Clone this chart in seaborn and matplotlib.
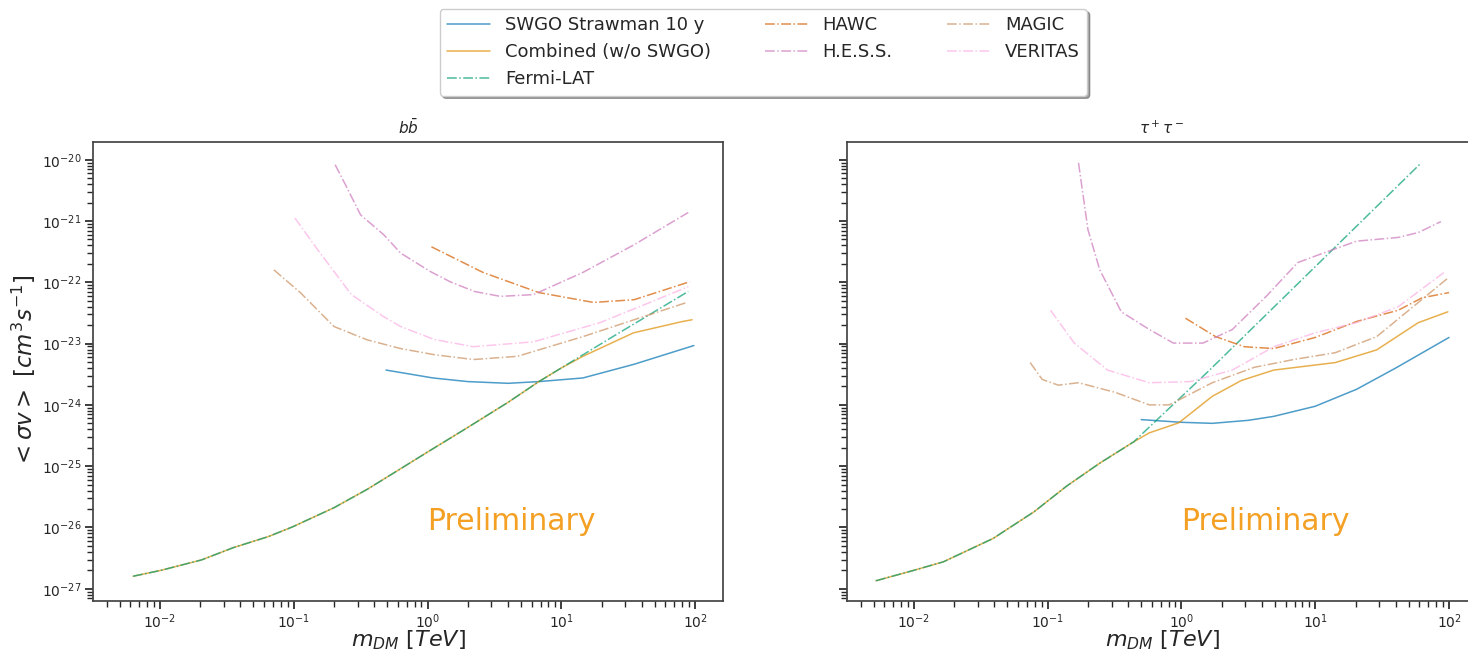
import matplotlib
matplotlib.use("Agg")
import matplotlib.pyplot as plt
from matplotlib.ticker import NullFormatter
import seaborn as sns

# ---------------- data (mass in TeV, <sigma v> in cm^3/s) ----------------
# b b-bar channel
bb_low_m = [0.0063, 0.0102, 0.0204, 0.0355, 0.0646, 0.0977, 0.2, 0.355, 0.63, 1.0, 1.9, 4.0, 6.8]
bb_low_sv = [1.6e-27, 2.0e-27, 2.95e-27, 4.7e-27, 7.1e-27, 1.02e-26, 2.1e-26, 4.2e-26, 9.1e-26,
             1.7e-25, 4.0e-25, 1.1e-24, 2.4e-24]
bb_fermi_hi_m = [25, 89]
bb_fermi_hi_sv = [1.35e-23, 7.1e-23]
bb_comb_hi_m = [10, 14.5, 34.7, 81, 95]
bb_comb_hi_sv = [4.0e-24, 6.2e-24, 1.5e-23, 2.3e-23, 2.45e-23]
bb_swgo_m = [0.49, 1.1, 2.0, 4.0, 6.8, 14.5, 35, 98]
bb_swgo_sv = [3.7e-24, 2.75e-24, 2.4e-24, 2.25e-24, 2.4e-24, 2.75e-24, 4.6e-24, 9.3e-24]
bb_magic_m = [0.071, 0.112, 0.2, 0.355, 0.63, 1.12, 2.2, 4.7, 14.5, 35, 87]
bb_magic_sv = [1.6e-22, 6.8e-23, 1.9e-23, 1.15e-23, 8.3e-24, 6.6e-24, 5.5e-24, 6.2e-24, 1.3e-23, 2.45e-23, 4.7e-23]
bb_veritas_m = [0.102, 0.151, 0.27, 0.47, 0.63, 1.12, 2.2, 6.2, 19.5, 46, 89]
bb_veritas_sv = [1.12e-21, 3.4e-22, 6.3e-23, 2.75e-23, 1.9e-23, 1.17e-23, 8.9e-24, 1.07e-23, 2.2e-23, 4.7e-23, 8.5e-23]
bb_hess_m = [0.204, 0.25, 0.316, 0.47, 0.63, 1.05, 1.48, 2.24, 3.5, 6.2, 14.5, 35, 89]
bb_hess_sv = [8.3e-21, 3.5e-21, 1.26e-21, 6.0e-22, 3.0e-22, 1.5e-22, 1.02e-22, 7.1e-23, 5.9e-23, 6.3e-23,
              1.45e-22, 4.1e-22, 1.38e-21]
bb_hawc_m = [1.07, 2.6, 6.8, 17.4, 35, 91]
bb_hawc_sv = [3.8e-22, 1.45e-22, 6.8e-23, 4.7e-23, 5.2e-23, 1.02e-22]

# tau+ tau- channel
tt_low_m = [0.0052, 0.01, 0.0166, 0.039, 0.079, 0.138, 0.245, 0.44]
tt_low_sv = [1.35e-27, 2.0e-27, 2.75e-27, 6.6e-27, 1.8e-26, 4.7e-26, 1.12e-25, 2.5e-25]
tt_fermi_hi_m = [1.58, 10, 62]
tt_fermi_hi_sv = [3.5e-24, 1.8e-22, 8.9e-21]
tt_comb_hi_m = [0.575, 0.955, 1.7, 2.8, 4.9, 14.1, 28.8, 59, 98]
tt_comb_hi_sv = [3.5e-25, 5.1e-25, 1.38e-24, 2.5e-24, 3.7e-24, 4.9e-24, 7.9e-24, 2.2e-23, 3.3e-23]
tt_swgo_m = [0.5, 1.0, 1.7, 3.16, 4.9, 10, 20.4, 40, 100]
tt_swgo_sv = [5.75e-25, 5.2e-25, 5.0e-25, 5.6e-25, 6.5e-25, 9.5e-25, 1.8e-24, 4.0e-24, 1.26e-23]
tt_magic_m = [0.074, 0.091, 0.12, 0.17, 0.32, 0.575, 0.81, 1.7, 3.5, 6.9, 14.1, 28.8, 59, 98]
tt_magic_sv = [4.9e-24, 2.6e-24, 2.1e-24, 2.3e-24, 1.6e-24, 1.0e-24, 1.0e-24, 2.3e-24, 4.1e-24, 5.5e-24,
               7.1e-24, 1.3e-23, 4.7e-23, 1.17e-22]
tt_veritas_m = [0.105, 0.158, 0.28, 0.575, 1.17, 2.4, 4.9, 10, 20.4, 41.7, 93]
tt_veritas_sv = [3.5e-23, 1.02e-23, 3.7e-24, 2.3e-24, 2.4e-24, 3.7e-24, 8.9e-24, 1.5e-23, 2.2e-23, 4.0e-23, 1.48e-22]
tt_hess_m = [0.17, 0.2, 0.245, 0.355, 0.575, 0.87, 1.45, 2.4, 4.3, 7.4, 11.5, 20.4, 41.7, 59, 87]
tt_hess_sv = [8.9e-21, 7.2e-22, 1.6e-22, 3.3e-23, 1.7e-23, 1.02e-23, 1.02e-23, 1.7e-23, 5.9e-23, 2.1e-22,
              3.0e-22, 4.7e-22, 5.4e-22, 6.5e-22, 9.8e-22]
tt_hawc_m = [1.07, 1.8, 2.95, 4.9, 10, 20.4, 41.7, 63, 100]
tt_hawc_sv = [2.6e-23, 1.3e-23, 8.9e-24, 8.3e-24, 1.26e-23, 2.3e-23, 3.5e-23, 5.6e-23, 6.8e-23]

labels = ["SWGO Strawman 10 y", "Combined (w/o SWGO)", "Fermi-LAT", "HAWC", "H.E.S.S.", "MAGIC", "VERITAS"]
titles = [r"$b\bar{b}$", r"$\tau^+\tau^-$"]

# ---------------- style ----------------
sns.set_theme(style="ticks", palette="colorblind")
plt.rcParams["font.family"] = ["DejaVu Sans"]
pal = sns.color_palette("colorblind")
colors = [pal[0], pal[1], pal[2], pal[3], pal[4], pal[5], pal[6]]
styles = ["-", "-", "-.", "-.", "-.", "-.", "-."]

fig = plt.figure(figsize=(14.68, 6.51), dpi=100)
axL = fig.add_axes([0.0634, 0.0768, 0.4292, 0.7051])
axR = fig.add_axes([0.577, 0.0768, 0.4292, 0.7051], sharey=axL)

panels = [
    (axL, bb_swgo_m, bb_swgo_sv, bb_low_m + bb_comb_hi_m, bb_low_sv + bb_comb_hi_sv,
     bb_low_m + bb_fermi_hi_m, bb_low_sv + bb_fermi_hi_sv,
     (bb_hawc_m, bb_hawc_sv), (bb_hess_m, bb_hess_sv), (bb_magic_m, bb_magic_sv), (bb_veritas_m, bb_veritas_sv)),
    (axR, tt_swgo_m, tt_swgo_sv, tt_low_m + tt_comb_hi_m, tt_low_sv + tt_comb_hi_sv,
     tt_low_m + tt_fermi_hi_m, tt_low_sv + tt_fermi_hi_sv,
     (tt_hawc_m, tt_hawc_sv), (tt_hess_m, tt_hess_sv), (tt_magic_m, tt_magic_sv), (tt_veritas_m, tt_veritas_sv)),
]

for i, p in enumerate(panels):
    ax = p[0]
    series = [(p[1], p[2]), (p[3], p[4]), (p[5], p[6]), p[7], p[8], p[9], p[10]]
    for k, (xm, ys) in enumerate(series):
        sns.lineplot(x=xm, y=ys, ax=ax, color=colors[k], linestyle=styles[k], lw=1.1,
                     alpha=0.7, label=labels[k] if i == 0 else None, sort=True, estimator=None)
    ax.set_xscale("log")
    ax.set_yscale("log")
    ax.set_xlim(10 ** -2.5, 10 ** 2.21)
    ax.set_ylim(10 ** -27.2, 10 ** -19.71)
    ax.xaxis.set_minor_formatter(NullFormatter())
    ax.yaxis.set_minor_formatter(NullFormatter())
    ax.set_title(titles[i], fontsize=11)
    ax.set_xlabel(r"$m_{DM}\ [TeV]$", fontsize=16)
    ax.xaxis.set_label_coords(0.5, -0.06)
    ax.tick_params(labelsize=10, pad=2.5)
    for s in ax.spines.values():
        s.set_color("#444444")
    ax.text(1.0, 0.92e-26, "Preliminary", color="#f4a024", fontsize=21.5, va="baseline", ha="left")
    if ax.get_legend() is not None:
        ax.get_legend().remove()

axL.set_ylabel(r"$<\sigma v>$ $[cm^3 s^{-1}]$", fontsize=16.5)
axL.yaxis.set_label_coords(-0.087, 0.5)
axR.set_ylabel("")
axR.tick_params(labelleft=False)

handles, labs = axL.get_legend_handles_labels()
fig.legend(handles, labs, loc="upper center", bbox_to_anchor=(0.52, 1.0), ncol=3,
           shadow=True, fontsize=13, handlelength=2.4, columnspacing=3.0, framealpha=1.0)

fig.savefig("out.png", dpi=100)
